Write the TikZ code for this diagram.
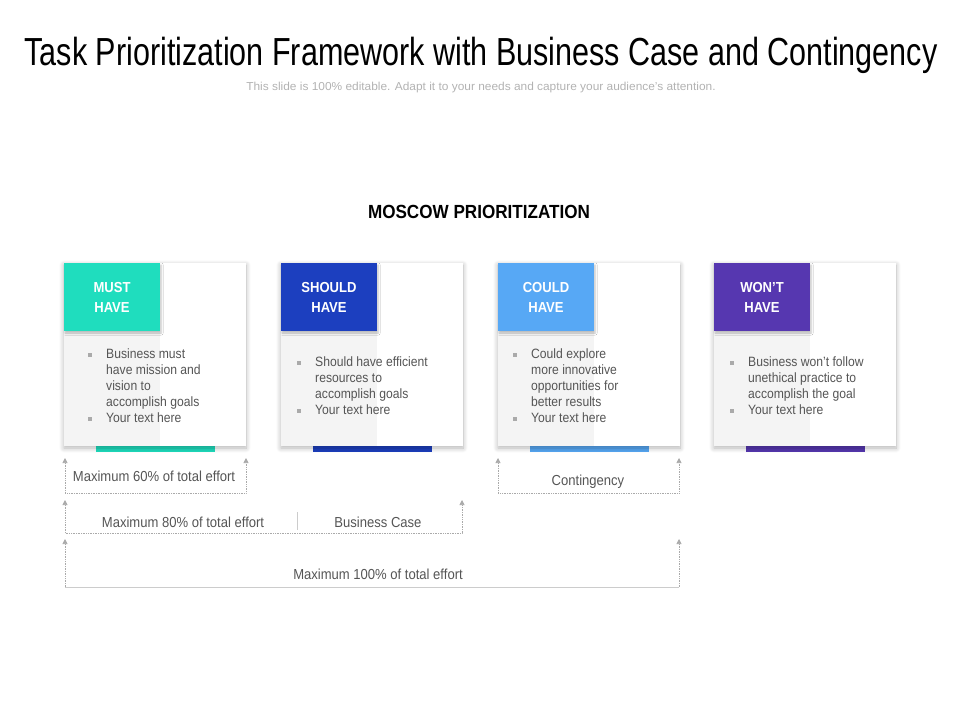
\documentclass[tikz,border=0pt]{standalone}
\usepackage{fontspec}
\setmainfont[FakeStretch=0.9]{Liberation Sans}
\newfontfamily\titlefont[FakeStretch=0.78]{Liberation Sans}
\usetikzlibrary{shadows.blur,arrows.meta}
\definecolor{cmust}{HTML}{1FDDBE}
\definecolor{cshould}{HTML}{1C3FBF}
\definecolor{ccould}{HTML}{57A8F5}
\definecolor{cwont}{HTML}{5637B0}
\definecolor{txt}{HTML}{555555}
\definecolor{lgray}{HTML}{F4F4F4}
\definecolor{brk}{HTML}{AAAAAA}
\tikzset{
 card/.style={fill=white,blur shadow={shadow blur steps=8,shadow xshift=0pt,shadow yshift=-2pt,shadow blur radius=5pt,shadow opacity=30}},
 head/.style={text=white,font=\bfseries\fontsize{14.5}{20}\selectfont,align=center,blur shadow={shadow blur steps=5,shadow xshift=1pt,shadow yshift=-2pt,shadow opacity=25}},
 body/.style={text=txt,font=\fontsize{13.5}{16}\selectfont,align=left,anchor=north west,inner sep=0pt},
 brarr/.style={brk,densely dotted,line width=0.7pt,{Triangle[width=5pt,length=5pt,fill=brk]}-{Triangle[width=5pt,length=5pt,fill=brk]}},
 brone/.style={brk,densely dotted,line width=0.7pt,{Triangle[width=5pt,length=5pt,fill=brk]}-},
 lab/.style={text=txt,font=\fontsize{14.5}{16}\selectfont}
}
\newcommand{\bul}{\makebox[18pt][l]{\raisebox{2pt}{\textcolor{brk}{\rule{3.5pt}{3.5pt}}}}}
\begin{document}
\begin{tikzpicture}[x=1pt,y=-1pt]
\useasboundingbox (0,0) rectangle (960,720);
\node (title) at (481,55) {\titlefont\fontsize{38}{40}\selectfont\scalebox{1.03}[1.03]{Task Prioritization Framework with Business Case and Contingency}};
\node[text=black!30,font=\fontsize{11.5}{12}\selectfont] (sub) at (481,88) {\scalebox{1.15}[1]{This slide is 100\% editable. Adapt it to your needs and capture your audience's attention.}};
\node[font=\bfseries\fontsize{19}{20}\selectfont] (mh) at (479,212) {MOSCOW PRIORITIZATION};
% cards
\foreach \x/\c/\n in {64/cmust/a,281/cshould/b,498/ccould/c,714/cwont/d}{
 \fill[\c] (\x+32,440) rectangle (\x+151,452);
 \fill[card] (\x,263) rectangle (\x+182,446);
 \fill[lgray] (\x,263) rectangle (\x+96,446);
 \fill[white] (\x+96,263) rectangle (\x+182,446);
}
\node[head,fill=cmust,minimum width=96pt,minimum height=68pt] (h1) at (112,297) {MUST\\HAVE};
\node[head,fill=cshould,minimum width=96pt,minimum height=68pt] (h2) at (329,297) {SHOULD\\HAVE};
\node[head,fill=ccould,minimum width=96pt,minimum height=68pt] (h3) at (546,297) {COULD\\HAVE};
\node[head,fill=cwont,minimum width=96pt,minimum height=68pt] (h4) at (762,297) {WON'T\\HAVE};
\node[body] (t1) at (88,349) {\bul Business must\\\hspace*{18pt}have mission and\\\hspace*{18pt}vision to\\\hspace*{18pt}accomplish goals\\\bul Your text here};
\node[body] (t2) at (297,357) {\bul Should have efficient\\\hspace*{18pt}resources  to\\\hspace*{18pt}accomplish goals\\\bul Your text here};
\node[body] (t3) at (513,349) {\bul Could explore\\\hspace*{18pt}more innovative\\\hspace*{18pt}opportunities for\\\hspace*{18pt}better results\\\bul Your text here};
\node[body] (t4) at (730,357) {\bul Business won't follow\\\hspace*{18pt}unethical practice to\\\hspace*{18pt}accomplish the goal\\\bul Your text here};
% brackets
\coordinate (a1) at (65,458); \coordinate (a2) at (246,458);
\draw[brarr] (a1) -- (65,493) -- (246,493) -- (a2);
\node[lab] (l60) at (154,476) {Maximum 60\% of total effort};
\coordinate (c1) at (498,458); \coordinate (c2) at (679,458);
\draw[brarr] (c1) -- (498,493) -- (679,493) -- (c2);
\node[lab] (lc) at (588,482) {Contingency};
\coordinate (b1) at (65,500); \coordinate (b2) at (462,500);
\draw[brarr] (b1) -- (65,533) -- (462,533) -- (b2);
\draw[black!20,line width=0.6pt] (297,512) -- (297,530);
\node[lab] (l80) at (183,522) {Maximum 80\% of total effort};
\node[lab] (lb) at (378,522) {Business Case};
\coordinate (d1) at (65,539); \coordinate (d2) at (679,539);
\draw[brone] (d1) -- (65,587);
\draw[brone] (d2) -- (679,587);
\draw[black!20,line width=0.7pt] (65,587) -- (679,587);
\node[lab] (l100) at (378,574) {Maximum 100\% of total effort};
\end{tikzpicture}
\end{document}
